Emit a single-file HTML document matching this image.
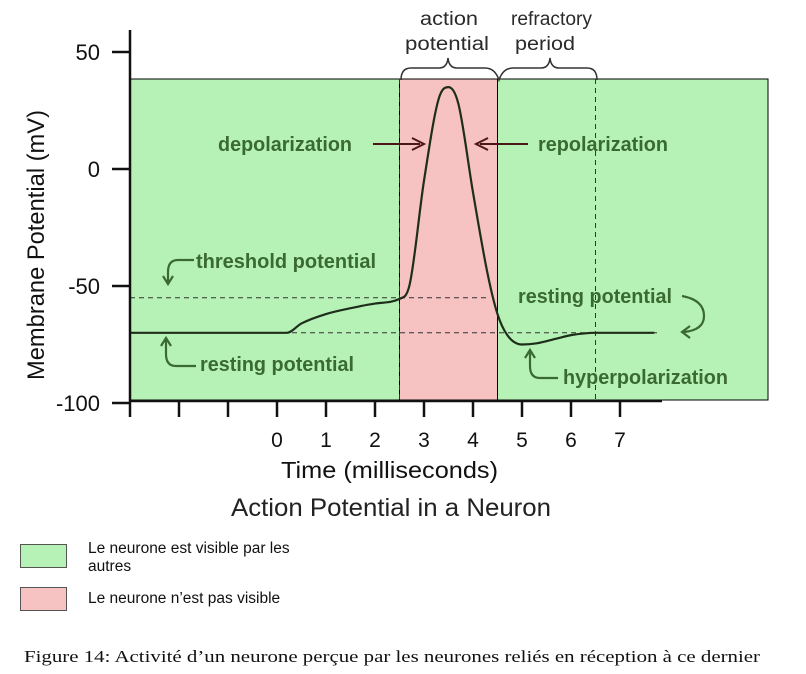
<!DOCTYPE html>
<html><head><meta charset="utf-8"><style>
body{margin:0;background:#fff;width:806px;height:674px;overflow:hidden;position:relative;font-family:"Liberation Sans",sans-serif}
.lg{position:absolute;left:20px;width:45px;height:22px;border:1px solid #555}
.lt{position:absolute;left:88px;font-size:15.5px;line-height:18px;color:#111}
</style></head><body>
<svg width="806" height="674" style="position:absolute;left:0;top:0">
<g id="g" font-family="'Liberation Sans',sans-serif"></g>
</svg>
<div class="lg" style="top:544px;background:#b6f2b6"></div>
<div class="lt" style="top:540px">Le neurone est visible par les<br>autres</div>
<div class="lg" style="top:587px;background:#f6c2c2"></div>
<div class="lt" style="top:590px">Le neurone n’est pas visible</div>
<script>
const timeMs=[-3,0.2,0.5,1,1.5,2,2.5,2.7,3.0,3.3,3.5,3.7,4.0,4.3,4.5,4.7,5.0,5.3,5.7,6.0,6.5,7.7];
const voltage=[-70,-70,-66,-62,-59.5,-57.5,-55.5,-50,-5,30,35,28,-10,-45,-62,-71,-75,-74.5,-72.5,-71,-70,-70];
const xTicks=[-3,-2,-1,0,1,2,3,4,5,6,7];
const xTickLabels=["","","","0","1","2","3","4","5","6","7"];
const yTicks=[50,0,-50,-100];
const thresholdMv=-55, restingMv=-70;
const apStart=2.5, apEnd=4.5, refEnd=6.5;
const X=t=>277+49*t, Y=v=>169-2.34*v;
const g=document.getElementById('g'),NS='http://www.w3.org/2000/svg';
function el(tag,attrs,name,txt){const e=document.createElementNS(NS,tag);for(const k in attrs)e.setAttribute(k,attrs[k]);


if(txt!==undefined)e.textContent=txt;g.appendChild(e);return e;}
el('rect',{x:130,y:79,width:638,height:321,fill:'#b6f2b6',stroke:'#000','stroke-width':1},'green-region');
el('rect',{x:X(apStart),y:79,width:X(apEnd)-X(apStart),height:321,fill:'#f6c2c2',stroke:'#000','stroke-width':1},'red-region');
el('line',{x1:X(apStart),x2:X(apStart),y1:79,y2:400,stroke:'#333','stroke-dasharray':'5,4'},'ap-start-line');
el('line',{x1:X(refEnd),x2:X(refEnd),y1:79,y2:400,stroke:'#333','stroke-dasharray':'5,4'},'refractory-end-line');
el('line',{x1:130,x2:X(4.3),y1:Y(thresholdMv),y2:Y(thresholdMv),stroke:'#333','stroke-dasharray':'5,4'},'threshold-line');
el('line',{x1:130,x2:X(7.8),y1:Y(restingMv),y2:Y(restingMv),stroke:'#333','stroke-dasharray':'5,4'},'resting-line');
// monotone cubic curve
const P=timeMs.map((t,i)=>[X(t),Y(voltage[i])]);
const n=P.length,dl=[],m=[];
for(let i=0;i<n-1;i++)dl.push((P[i+1][1]-P[i][1])/(P[i+1][0]-P[i][0]));
m[0]=dl[0];m[n-1]=dl[n-2];
for(let i=1;i<n-1;i++){m[i]=(dl[i-1]*dl[i]<=0)?0:(dl[i-1]+dl[i])/2;}
for(let i=0;i<n-1;i++){if(dl[i]===0){m[i]=0;m[i+1]=0;continue;}const a=m[i]/dl[i],b=m[i+1]/dl[i],s=a*a+b*b;if(s>9){const tt=3/Math.sqrt(s);m[i]=tt*a*dl[i];m[i+1]=tt*b*dl[i];}}
let d='M'+P[0];
for(let i=0;i<n-1;i++){const h=(P[i+1][0]-P[i][0])/3;
d+=' C'+[P[i][0]+h,P[i][1]+m[i]*h]+' '+[P[i+1][0]-h,P[i+1][1]-m[i+1]*h]+' '+P[i+1];}
el('path',{d:d,fill:'none',stroke:'#1e2e1a','stroke-width':2.2},'membrane-potential-curve');
// axes
el('line',{x1:130,x2:130,y1:30,y2:401,stroke:'#111','stroke-width':2.5},'y-axis');
el('line',{x1:129,x2:662,y1:401,y2:401,stroke:'#111','stroke-width':2.5},'x-axis');
yTicks.forEach(v=>{el('line',{x1:112,x2:130,y1:Y(v),y2:Y(v),stroke:'#111','stroke-width':2.5},'y-tick');
el('text',{x:100,y:Y(v)+8,'text-anchor':'end','font-size':22,fill:'#111'},'y-tick-label',String(v));});
xTicks.forEach((t,i)=>{el('line',{x1:X(t),x2:X(t),y1:401,y2:417,stroke:'#111','stroke-width':2.5},'x-tick');
el('text',{x:X(t),y:447,'text-anchor':'middle','font-size':21,fill:'#111'},'x-tick-label',xTickLabels[i]);});
const TL=(x,y,w,s,n,c,fs,extra)=>{const a={x:x,y:y,'font-size':fs||20,fill:c||'#2a2a2a',textLength:w,lengthAdjust:'spacingAndGlyphs','font-weight':'bold'};Object.assign(a,extra||{});return el('text',a,n,s);};
TL(281,478,217,'Time (milliseconds)','x-axis-title','#111',23,{'font-weight':'normal'});
TL(231,516,320,'Action Potential in a Neuron','chart-title','#222',25,{'font-weight':'normal'});
TL(0,0,270,'Membrane Potential (mV)','y-axis-title','#111',24,{transform:'translate(44,380) rotate(-90)','font-weight':'normal'});
// top labels
TL(420,25,58,'action','ap-label','#2a2a2a',19,{'font-weight':'normal'});
TL(405,50,84,'potential','ap-label-2','#2a2a2a',19,{'font-weight':'normal'});
TL(511,25,81,'refractory','refractory-label','#2a2a2a',19,{'font-weight':'normal'});
TL(515,50,60,'period','refractory-label-2','#2a2a2a',19,{'font-weight':'normal'});
el('path',{d:'M401,80 q0,-12 10,-12 h28 q8,0 9,-10 q1,10 9,10 h28 q10,0 14,12 q4,-12 14,-12 h28 q8,0 9,-10 q1,10 9,10 h28 q10,0 10,12',fill:'none',stroke:'#333','stroke-width':1.5},'braces');
const G='#3a6a30';
TL(218,151,134,'depolarization','depolarization-label',G);
TL(538,151,130,'repolarization','repolarization-label',G);
TL(196,268,180,'threshold potential','threshold-label',G);
TL(200,371,154,'resting potential','resting-label-left',G);
TL(518,303,154,'resting potential','resting-label-right',G);
TL(563,384,165,'hyperpolarization','hyperpolarization-label',G);
const R='#4a1616';
el('path',{d:'M373,144 H420 M412,138 L424,144 L412,150',fill:'none',stroke:R,'stroke-width':2},'depol-arrow');
el('path',{d:'M528,144 H480 M488,138 L476,144 L488,150',fill:'none',stroke:R,'stroke-width':2},'repol-arrow');
el('path',{d:'M194,260 H178 q-10,0 -10,12 V282 M163,276 L168,284 L173,276',fill:'none',stroke:G,'stroke-width':2.2},'threshold-arrow');
el('path',{d:'M196,366 H176 q-10,0 -10,-12 V340 M161,346 L166,338 L171,346',fill:'none',stroke:G,'stroke-width':2.2},'resting-arrow-left');
el('path',{d:'M682,296 q22,4 22,20 q0,14 -20,16 M690,326 L682,332 L690,338',fill:'none',stroke:G,'stroke-width':2.2},'resting-arrow-right');
el('path',{d:'M558,378 H540 q-10,0 -10,-12 V352 M525,358 L530,350 L535,358',fill:'none',stroke:G,'stroke-width':2.2},'hyperpolarization-arrow');
el('text',{x:24,y:662,'font-family':"'Liberation Serif',serif",'font-size':17,fill:'#111',textLength:736,lengthAdjust:'spacingAndGlyphs'},'figure-caption','Figure 14: Activité d’un neurone perçue par les neurones reliés en réception à ce dernier');
</script>
</body></html>
